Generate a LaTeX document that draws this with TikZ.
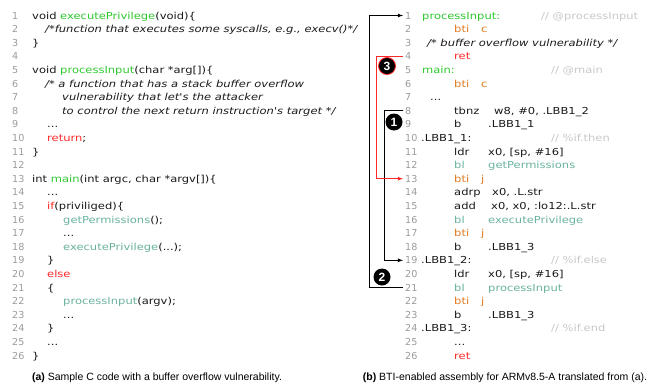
\documentclass[tikz,border=0pt]{standalone}
\usepackage{fontspec}
\setmainfont{DejaVu Sans}
\newfontfamily\codefont{DejaVu Sans}[FakeStretch=1.2]
\newfontfamily\capfont{Liberation Sans}
\usetikzlibrary{arrows}

\definecolor{fngreen}{RGB}{45,200,45}
\definecolor{calltl}{RGB}{105,178,158}
\definecolor{kwred}{RGB}{255,40,40}
\definecolor{btiorg}{RGB}{226,122,32}
\definecolor{numgray}{RGB}{155,155,155}
\definecolor{comgray}{RGB}{200,200,200}
\definecolor{txt}{RGB}{25,25,25}

\newcommand{\fn}[1]{\textcolor{fngreen}{#1}}
\newcommand{\cl}[1]{\textcolor{calltl}{#1}}
\newcommand{\kw}[1]{\textcolor{kwred}{#1}}
\newcommand{\bt}[1]{\textcolor{btiorg}{#1}}
\newcommand{\rowy}[1]{\fpeval{19+(#1-1)*13.6}}

\begin{document}
\begin{tikzpicture}[x=1pt,y=-1pt]
        	\tikzstyle{num}=[anchor=base west, inner sep=2pt, text=numgray, font=\fontsize{9.6}{11}\selectfont]
        	\tikzstyle{code}=[anchor=base west, inner sep=0pt, text=txt, font=\codefont\fontsize{9.6}{11}\selectfont]
        	\tikzstyle{cmt}=[code, text=comgray]
        	\tikzstyle{flow}=[line width=0.8pt, -latex]
        	\tikzstyle{badge}=[circle, fill=black, text=white, inner sep=0pt, minimum size=17pt, font=\capfont\bfseries\fontsize{12}{12}\selectfont]
        	\tikzstyle{caption}=[anchor=base, font=\capfont\fontsize{10.5}{12}\selectfont]
        	\useasboundingbox (0,0) rectangle (653,383);
        	% Line numbers
        	\foreach \i in {1,...,26}
        		\node[num] (lnum_\i) at (10,\rowy{\i}) {\i};
        	\foreach \i in {1,...,26}
        		\node[num] (rnum_\i) at (403,\rowy{\i}) {\i};
        	%---------------------%
        	% C source
        	\node[code] (lcode_1) at (32,\rowy{1}) {void \fn{executePrivilege}(void)\{};
        	\node[code] (lcode_2) at (45,\rowy{2}) {\itshape /*function that executes some syscalls, e.g., execv()*/};
        	\node[code] (lcode_3) at (32,\rowy{3}) {\}};
        	\node[code] (lcode_5) at (32,\rowy{5}) {void \fn{processInput}(char *arg[])\{};
        	\node[code] (lcode_6) at (45,\rowy{6}) {\itshape /* a function that has a stack buffer overflow};
        	\node[code] (lcode_7) at (62,\rowy{7}) {\itshape vulnerability that let's the attacker};
        	\node[code] (lcode_8) at (62,\rowy{8}) {\itshape to control the next return instruction's target */};
        	\node[code] (lcode_9) at (47,\rowy{9}) {...};
        	\node[code] (lcode_10) at (47,\rowy{10}) {\kw{return};};
        	\node[code] (lcode_11) at (32,\rowy{11}) {\}};
        	\node[code] (lcode_13) at (32,\rowy{13}) {int \fn{main}(int argc, char *argv[])\{};
        	\node[code] (lcode_14) at (47,\rowy{14}) {...};
        	\node[code] (lcode_15) at (47,\rowy{15}) {\kw{if}(priviliged)\{};
        	\node[code] (lcode_16) at (63,\rowy{16}) {\cl{getPermissions}();};
        	\node[code] (lcode_17) at (63,\rowy{17}) {...};
        	\node[code] (lcode_18) at (63,\rowy{18}) {\cl{executePrivilege}(...);};
        	\node[code] (lcode_19) at (47,\rowy{19}) {\}};
        	\node[code] (lcode_20) at (47,\rowy{20}) {\kw{else}};
        	\node[code] (lcode_21) at (47,\rowy{21}) {\{};
        	\node[code] (lcode_22) at (63,\rowy{22}) {\cl{processInput}(argv);};
        	\node[code] (lcode_23) at (63,\rowy{23}) {...};
        	\node[code] (lcode_24) at (47,\rowy{24}) {\}};
        	\node[code] (lcode_25) at (47,\rowy{25}) {...};
        	\node[code] (lcode_26) at (32,\rowy{26}) {\}};
        	%---------------------%
        	% Assembly: labels
        	\node[code] (rlab_1) at (422,\rowy{1}) {\fn{processInput:}};
        	\node[code] (rlab_5) at (422,\rowy{5}) {\fn{main:}};
        	\node[code] (rlab_10) at (421,\rowy{10}) {.LBB1\_1:};
        	\node[code] (rlab_19) at (421,\rowy{19}) {.LBB1\_2:};
        	\node[code] (rlab_24) at (421,\rowy{24}) {.LBB1\_3:};
        	\node[code] (rlab_3) at (427,\rowy{3}) {\itshape /* buffer overflow vulnerability */};
        	\node[code] (rlab_7) at (430,\rowy{7}) {...};
        	% Assembly: comments
        	\node[cmt] (rcom_1) at (541,\rowy{1}) {// @processInput};
        	\node[cmt] (rcom_5) at (551,\rowy{5}) {// @main};
        	\node[cmt] (rcom_10) at (551,\rowy{10}) {// \%if.then};
        	\node[cmt] (rcom_19) at (551,\rowy{19}) {// \%if.else};
        	\node[cmt] (rcom_24) at (551,\rowy{24}) {// \%if.end};
        	% Assembly: instructions
        	\foreach \i in {2,6}
        		\node[code] (rins_\i) at (454,\rowy{\i}) {\bt{bti}\hspace{12pt}\bt{c}};
        	\foreach \i in {13,17,22}
        		\node[code] (rins_\i) at (454,\rowy{\i}) {\bt{bti}\hspace{12pt}\bt{j}};
        	\node[code] (rins_4) at (454,\rowy{4}) {\kw{ret}};
        	\node[code] (rins_26) at (454,\rowy{26}) {\kw{ret}};
        	\node[code] (rins_25) at (454,\rowy{25}) {...};
        	\node[code] (rins_8) at (454,\rowy{8}) {tbnz};
        	\node[code] (rop_8) at (494,\rowy{8}) {w8, \#0, .LBB1\_2};
        	\node[code] (rins_9) at (454,\rowy{9}) {b};
        	\node[code] (rop_9) at (488,\rowy{9}) {.LBB1\_1};
        	\node[code] (rins_11) at (454,\rowy{11}) {ldr};
        	\node[code] (rop_11) at (488,\rowy{11}) {x0, [sp, \#16]};
        	\node[code] (rins_12) at (454,\rowy{12}) {\cl{bl}};
        	\node[code] (rop_12) at (488,\rowy{12}) {\cl{getPermissions}};
        	\node[code] (rins_14) at (454,\rowy{14}) {adrp};
        	\node[code] (rop_14) at (492,\rowy{14}) {x0, .L.str};
        	\node[code] (rins_15) at (454,\rowy{15}) {add};
        	\node[code] (rop_15) at (491,\rowy{15}) {x0, x0, :lo12:.L.str};
        	\node[code] (rins_16) at (454,\rowy{16}) {\cl{bl}};
        	\node[code] (rop_16) at (488,\rowy{16}) {\cl{executePrivilege}};
        	\node[code] (rins_18) at (454,\rowy{18}) {b};
        	\node[code] (rop_18) at (488,\rowy{18}) {.LBB1\_3};
        	\node[code] (rins_20) at (454,\rowy{20}) {ldr};
        	\node[code] (rop_20) at (488,\rowy{20}) {x0, [sp, \#16]};
        	\node[code] (rins_21) at (454,\rowy{21}) {\cl{bl}};
        	\node[code] (rop_21) at (488,\rowy{21}) {\cl{processInput}};
        	\node[code] (rins_23) at (454,\rowy{23}) {b};
        	\node[code] (rop_23) at (488,\rowy{23}) {.LBB1\_3};
        	%---------------------%
        	% Control flow
        	\draw[flow] (rnum_21.west) -- ++(-34,0) |- (rnum_1.west);
        	\draw[flow] (rnum_8.west) -- ++(-19,0) |- (rnum_19.west);
        	\draw[flow, kwred] (rnum_4.west) -- ++(-27,0) |- (rnum_13.west);
        	\node[badge, draw=kwred, line width=0.8pt] (badge_3) at (387,66) {3};
        	\node[badge] (badge_1) at (394,122) {1};
        	\node[badge] (badge_2) at (382,277) {2};
        	% Captions
        	\node[caption] (cap_a) at (157,380) {\textbf{(a)} Sample C code with a buffer overflow vulnerability.};
        	\node[caption] (cap_b) at (505,380) {\textbf{(b)} BTI-enabled assembly for ARMv8.5-A translated from (a).};
            %---------------------%
\end{tikzpicture}
\end{document}
